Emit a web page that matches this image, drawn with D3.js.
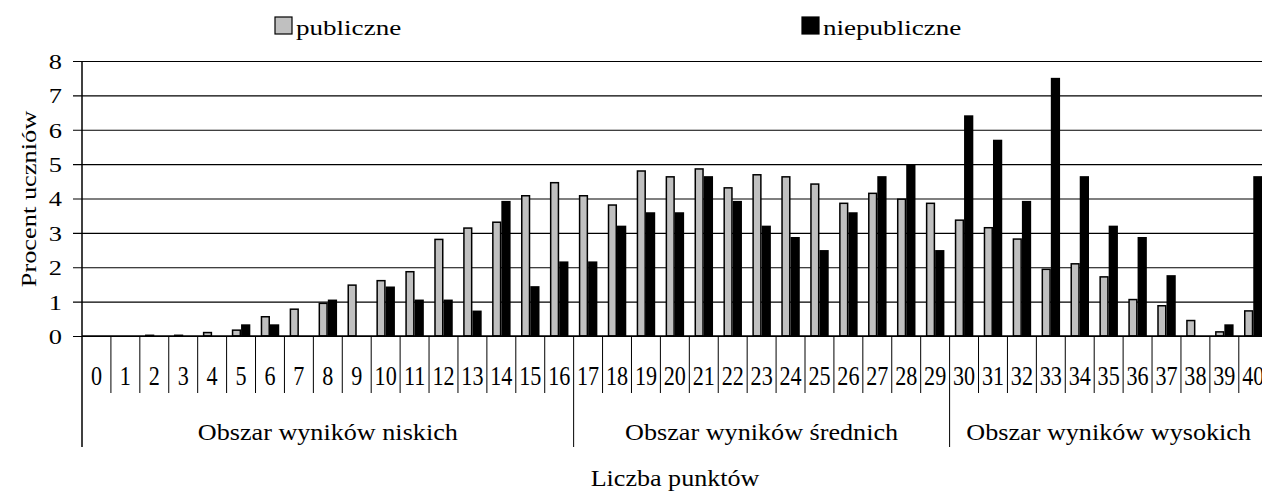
<!DOCTYPE html>
<html>
<head>
<meta charset="utf-8">
<script src="https://cdn.jsdelivr.net/npm/d3@7"></script>
<style>
  html, body { margin: 0; padding: 0; background: #fff; }
  svg { display: block; }
  svg text { font-family: "Liberation Serif", Tinos, "Times New Roman", Times, serif !important; fill: #000; }
</style>
</head>
<body>
<svg id="chart" width="1262" height="492"></svg>
<script>
const categories = d3.range(0, 41).map(String);
const seriesNames = ["publiczne", "niepubliczne"];
const publiczne = [0,0,0.02,0.02,0.1,0.17,0.56,0.78,0.95,1.48,1.61,1.87,2.81,3.14,3.31,4.08,4.46,4.08,3.81,4.8,4.63,4.86,4.31,4.69,4.63,4.42,3.86,4.15,3.98,3.86,3.37,3.15,2.82,1.94,2.1,1.72,1.06,0.88,0.45,0.12,0.73];
const niepubliczne = [0,0,0,0,0,0.34,0.34,0,1.06,0,1.44,1.06,1.06,0.74,3.93,1.45,2.17,2.17,3.21,3.6,3.6,4.65,3.93,3.21,2.88,2.5,3.6,4.65,4.99,2.5,6.42,5.71,3.93,7.51,4.65,3.21,2.88,1.77,0,0.34,4.65];
const yTicks = [0,1,2,3,4,5,6,7,8];
const regions = [
  {label: "Obszar wyników niskich", from: 0, to: 16},
  {label: "Obszar wyników średnich", from: 17, to: 29},
  {label: "Obszar wyników wysokich", from: 30, to: 40}
];
const xTitle = "Liczba punktów";
const yTitle = "Procent uczniów";
const colors = ["#c0c0c0", "#000000"];

const svg = d3.select("#chart");
const plotLeft = 82, plotTop = 61, plotBottom = 336;
const step = 28.92;
const plotRight = plotLeft + step * categories.length;

const x = d3.scaleBand().domain(categories).range([plotLeft, plotRight]).paddingInner(0.36).paddingOuter(0.18);
const xs = d3.scaleBand().domain(seriesNames).range([0, x.bandwidth()]);
const y = d3.scaleLinear().domain([0, 8]).range([plotBottom, plotTop]);
const catStart = c => x(c) - x.step() * x.paddingOuter();

// gridlines + y ticks
const yAxis = d3.axisLeft(y).tickValues(yTicks).tickSizeOuter(0).tickPadding(11).tickSize(9);
const gy = svg.append("g").attr("transform", `translate(${plotLeft},0)`).call(yAxis);
gy.attr("font-family", null).attr("font-size", null);
gy.select(".domain").remove();
gy.selectAll(".tick line").attr("x1", -9).attr("x2", plotRight - plotLeft).attr("stroke", "#000").attr("stroke-width", 1.2);
gy.selectAll(".tick text").attr("font-size", 22).attr("fill", "#000")
  .attr("x", 0).attr("dy", "0.34em")
  .attr("transform", "translate(-20,0) scale(1.2,1)");

// bars
const data = [publiczne, niepubliczne];
seriesNames.forEach((s, si) => {
  svg.append("g").selectAll("rect")
    .data(categories.map((c, i) => ({c, v: data[si][i]})))
    .join("rect")
    .attr("x", d => x(d.c) + xs(s) + (si === 0 ? 0.75 : 0))
    .attr("y", d => y(d.v))
    .attr("width", xs.bandwidth() - (si === 0 ? 1.5 : 0))
    .attr("height", d => Math.max(0, y(0) - y(d.v)))
    .attr("fill", colors[si])
    .attr("stroke", si === 0 ? "#000" : "none")
    .attr("stroke-width", 1.5);
});

// axis lines
svg.append("line").attr("x1", plotLeft).attr("x2", plotRight).attr("y1", y(0)).attr("y2", y(0)).attr("stroke", "#000").attr("stroke-width", 1.5);
svg.append("line").attr("x1", plotLeft).attr("x2", plotLeft).attr("y1", plotTop).attr("y2", 447).attr("stroke", "#000").attr("stroke-width", 1.5);

// category boundary ticks
const groupStarts = regions.map(r => r.from);
const boundaries = d3.range(1, categories.length);
svg.append("g").selectAll("line").data(boundaries).join("line")
  .attr("x1", i => catStart(categories[i]))
  .attr("x2", i => catStart(categories[i]))
  .attr("y1", plotBottom)
  .attr("y2", i => groupStarts.includes(i) ? 447 : 393)
  .attr("stroke", "#000").attr("stroke-width", 1);

// x tick labels
svg.append("g").selectAll("text").data(categories).join("text")
  .attr("transform", c => `translate(${x(c) + x.bandwidth() / 2},385) scale(0.82,1)`)
  .attr("text-anchor", "middle")
  .attr("font-size", 27)
  .text(c => c);

// region labels
svg.append("g").selectAll("text").data(regions).join("text")
  .attr("transform", r => `translate(${(catStart(categories[r.from]) + catStart(categories[r.to]) + x.step()) / 2},440) scale(1.09,1)`)
  .attr("text-anchor", "middle")
  .attr("font-size", 24)
  .text(r => r.label);

// axis titles
svg.append("text").attr("transform", "translate(675,486) scale(1.11,1)").attr("text-anchor", "middle").attr("font-size", 23.5).text(xTitle);
svg.append("text").attr("transform", "translate(36,199) rotate(-90) scale(1.2,1)").attr("text-anchor", "middle").attr("font-size", 22).text(yTitle);

// legend
const legendPos = [275, 802];
const lg = svg.append("g").selectAll("g").data(seriesNames).join("g")
  .attr("transform", (d, i) => `translate(${legendPos[i]},17)`);
lg.append("rect").attr("width", 17).attr("height", 17).attr("fill", (d, i) => colors[i]).attr("stroke", "#000").attr("stroke-width", 1.2);
lg.append("text").attr("transform", "translate(21,18) scale(1.23,1)").attr("font-size", 22).text(d => d);
</script>
</body>
</html>
